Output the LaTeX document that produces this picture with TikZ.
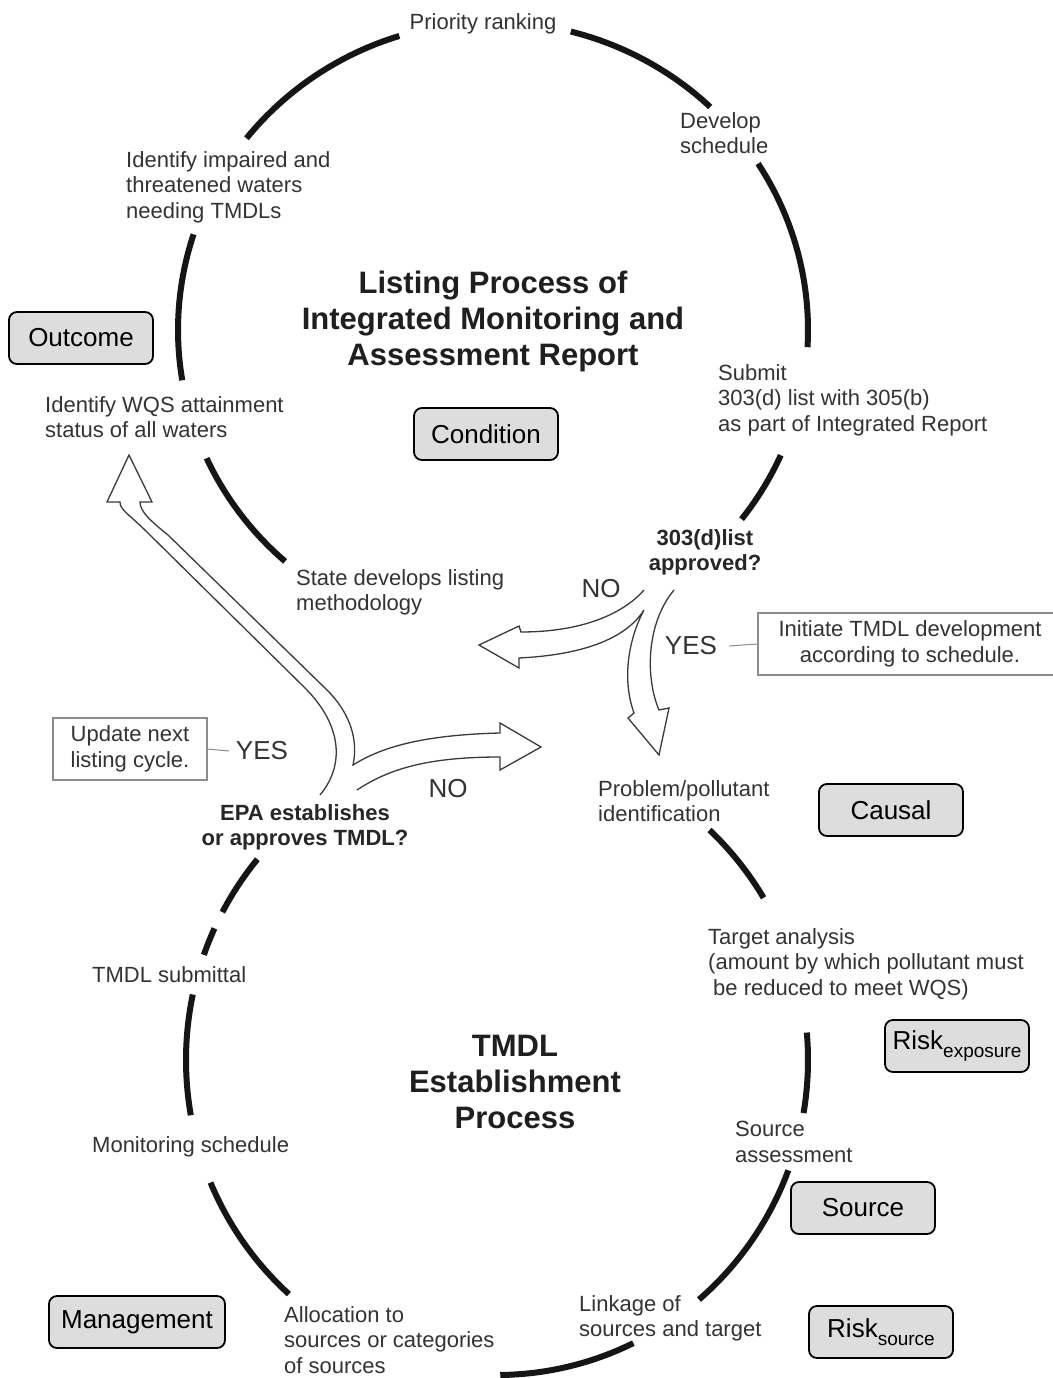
\documentclass[tikz,border=0pt]{standalone}
\usepackage{fontspec}
\setmainfont{Liberation Sans}
\definecolor{labelgray}{HTML}{333333}
\definecolor{arcblack}{HTML}{151515}
\definecolor{tagfill}{HTML}{DDDDDD}
\definecolor{notegray}{HTML}{8C8C8C}
\definecolor{arrowgray}{HTML}{3A3A3A}
% one segment of a loop: centre x, centre y, x radius, y radius, start angle, end angle
\newcommand\looparc[6]{\draw[cyc] (#1,#2) ++(#5:#3 and #4)
  arc[start angle=#5, end angle=#6, x radius=#3, y radius=#4];}
\begin{document}
\begin{tikzpicture}[x=1pt,y=-1pt,
  lbl/.style={inner sep=0pt, text=labelgray, font=\fontsize{22}{25.5}\selectfont, align=left, anchor=north west},
  ttl/.style={inner sep=0pt, text=black!88, font=\fontsize{31}{36}\selectfont\bfseries, align=center, anchor=north},
  qst/.style={inner sep=0pt, text=black!85, font=\fontsize{22}{25.5}\selectfont\bfseries, align=center, anchor=north},
  yn/.style={inner sep=0pt, text=labelgray, font=\fontsize{26}{28}\selectfont},
  tag/.style={draw=black, line width=1.8pt, fill=tagfill, rounded corners=8pt,
              minimum width=144pt, minimum height=52pt, inner sep=0pt, font=\fontsize{26}{28}\selectfont},
  note/.style={draw=notegray, line width=1.2pt, fill=white, align=center, inner sep=0pt,
               font=\fontsize{22}{25.5}\selectfont, text=labelgray},
  cyc/.style={line width=6pt, draw=arcblack},
  hollow/.style={draw=arrowgray, line width=1.3pt, fill=white, line join=miter},
  tie/.style={draw=notegray, line width=1pt}
]
\useasboundingbox[fill=white] (0,0) rectangle (1052,1378);

% ---------- listing cycle (upper loop) ----------
\looparc{493}{330}{315}{308}{-141.5}{-107.3}
\looparc{493}{330}{315}{308}{-75.7}{-46.4}
\looparc{493}{330}{315}{308}{-32.7}{3.2}
\looparc{493}{330}{315}{308}{24}{37.9}
\looparc{493}{330}{315}{308}{131.3}{155.4}
\looparc{493}{330}{315}{308}{170.6}{198.1}

% ---------- TMDL cycle (lower loop) ----------
\looparc{497}{1060}{311}{315}{-140.4}{-152}
\looparc{497}{1060}{311}{315}{-155.3}{-160.5}
\looparc{497}{1060}{311}{315}{-168}{-190.1}
\looparc{497}{1060}{311}{315}{157.1}{132}
\looparc{497}{1060}{311}{315}{89.4}{64}
\looparc{497}{1060}{311}{315}{49.5}{20.5}
\looparc{497}{1060}{311}{315}{-5}{9.7}
\looparc{497}{1060}{311}{315}{-31}{-46.9}

% ---------- decision forks (hollow arrows) ----------
\draw[hollow] (644,590) .. controls (625,612) and (585,632) .. (521,632)
  -- (519,626) -- (479,645) -- (519,668) -- (519,658)
  .. controls (580,655) and (625,640) .. (644,610)
  .. controls (628,640) and (622,680) .. (634,713)
  -- (628,718) -- (659,755) -- (669,708) -- (659,710)
  .. controls (646,680) and (645,625) .. (674,590);

\draw[hollow] (320,795) .. controls (345,765) and (342,725) .. (305,688)
  -- (150,535) .. controls (128,513) and (120,510) .. (120,502)
  -- (107,502) -- (129,455) -- (152,502) -- (140,502)
  .. controls (140,512) and (152,522) .. (168,535)
  -- (327,690) .. controls (352,715) and (358,742) .. (353,765)
  .. controls (380,748) and (420,735) .. (500,733)
  -- (500,723) -- (541,747) -- (500,770) -- (500,757)
  .. controls (430,757) and (390,768) .. (357,790);

% ---------- step labels ----------
\node[lbl, anchor=north] (prio) at (483,13) {Priority ranking};
\node[lbl] (devsch) at (680,112) {Develop\\schedule};
\node[lbl] (impaired) at (126,151) {Identify impaired and\\threatened waters\\needing TMDLs};
\node[lbl] (wqs) at (45,396) {Identify WQS attainment\\status of all waters};
\node[lbl] (submit) at (718,364) {Submit\\303(d) list with 305(b)\\as part of Integrated Report};
\node[lbl] (state) at (296,569) {State develops listing\\methodology};
\node[lbl] (problem) at (598,780) {Problem/pollutant\\identification};
\node[lbl] (target) at (708,928) {Target analysis\\(amount by which pollutant must\\\hspace*{5pt}be reduced to meet WQS)};
\node[lbl] (tsub) at (92,966) {TMDL submittal};
\node[lbl] (monsch) at (92,1136) {Monitoring schedule};
\node[lbl] (srcass) at (735,1121) {Source\\assessment};
\node[lbl] (alloc) at (284,1306) {Allocation to\\sources or categories\\of sources};
\node[lbl] (linkage) at (579,1295) {Linkage of\\sources and target};

% ---------- titles ----------
\node[ttl] (listtitle) at (493,271) {Listing Process of\\Integrated Monitoring and\\Assessment Report};
\node[ttl] (tmdltitle) at (515,1035) {TMDL\\Establishment\\Process};

% ---------- decisions ----------
\node[qst] (q303) at (705,529) {303(d)list\\approved?};
\node[qst] (qepa) at (305,804) {EPA establishes\\or approves TMDL?};
\node[yn] (noup) at (601,589) {NO};
\node[yn] (yesup) at (691,646) {YES};
\node[yn] (nolow) at (448,789) {NO};
\node[yn] (yeslow) at (262,751) {YES};

% ---------- notes ----------
\node[note, minimum width=304pt, minimum height=62pt] (initiate) at (910,644)
  {Initiate TMDL development\\according to schedule.};
\node[note, minimum width=154pt, minimum height=62pt, align=left] (update) at (130,749)
  {Update next\\listing cycle.};
\draw[tie] (yesup.east) ++(12,0) -- (initiate.west);
\draw[tie] (update.east) -- ([xshift=-7pt]yeslow.west);

% ---------- category tags ----------
\node[tag] (outcome) at (81,338) {Outcome};
\node[tag] (condition) at (486,434) {Condition};
\node[tag] (causal) at (891,810) {Causal};
\node[tag] (riskexp) at (957,1046) {Risk\raisebox{-8pt}{\fontsize{19}{19}\selectfont exposure}};
\node[tag] (source) at (863,1208) {Source};
\node[tag] (risksrc) at (881,1332) {Risk\raisebox{-8pt}{\fontsize{19}{19}\selectfont source}};
\node[tag, minimum width=176pt] (management) at (137,1322) {Management};
\end{tikzpicture}
\end{document}
